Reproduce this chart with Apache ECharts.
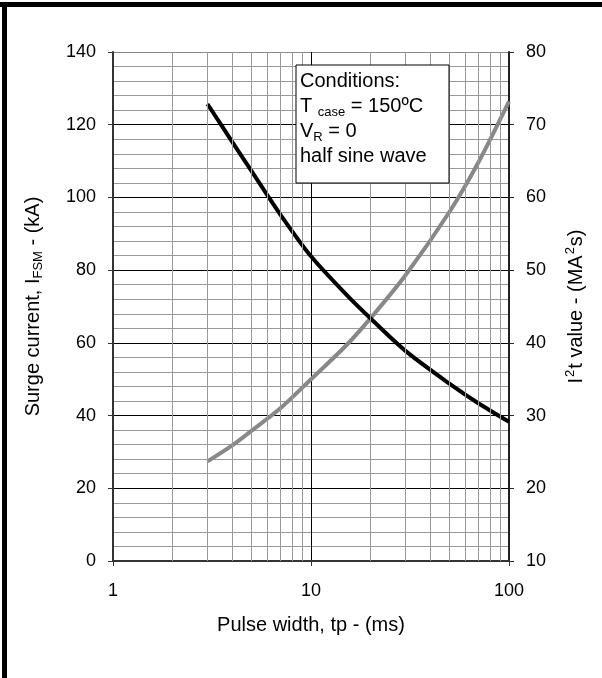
<!DOCTYPE html>
<html>
<head>
<meta charset="utf-8">
<script src="https://cdn.jsdelivr.net/npm/echarts@6/dist/echarts.min.js"></script>
<style>
html,body{margin:0;padding:0;background:#fff;}
#chart{width:602px;height:678px;}
</style>
</head>
<body>
<div id="chart"></div>
<script>
// Data
const pulseWidth   = [3, 4, 5, 7, 10, 15, 20, 30, 50, 70, 100];          // ms
const surgeCurrent = [125.7, 115.3, 107.3, 95.3, 83.8, 73.4, 66.7, 57.8, 48.8, 43.4, 38.3]; // kA
const i2tValue     = [23.7, 25.9, 27.9, 31.0, 35.0, 39.6, 43.4, 49.3, 58.0, 64.8, 73.2]; // MA²s
const minorGridX   = [2, 3, 4, 5, 6, 7, 8, 9, 20, 30, 40, 50, 60, 70, 80, 90];
const conditionLines = ['Conditions:', 'T case = 150ºC', 'VR = 0', 'half sine wave'];

const FONT = 'Liberation Sans, Arial, sans-serif';
const chart = echarts.init(document.getElementById('chart'));

const option = {
  backgroundColor: '#fff',
  animation: false,
  textStyle: { fontFamily: FONT },
  grid: { left: 113, right: 93, top: 52, bottom: 117, containLabel: false },
  xAxis: {
    type: 'log', logBase: 10, min: 1, max: 100,
    name: 'Pulse width, tp - (ms)', nameLocation: 'middle', nameGap: 54,
    nameTextStyle: { fontSize: 20, color: '#000', fontFamily: FONT },
    axisLine: { show: true, lineStyle: { color: '#333', width: 2 } },
    axisTick: { show: true, length: 5, lineStyle: { color: '#333', width: 1 } },
    axisLabel: { fontSize: 18, color: '#000', margin: 21, fontFamily: FONT },
    splitLine: { show: true, lineStyle: { color: '#000', width: 1 } },
    minorTick: { show: false }, minorSplitLine: { show: false }
  },
  yAxis: [
    {
      type: 'value', min: 0, max: 140, interval: 20, position: 'left',
      name: '{a|Surge current, I}{sub|FSM}{a| - (kA)}', nameLocation: 'middle', nameGap: 68, nameRotate: 90,
      nameTextStyle: {
        color: '#000', fontFamily: FONT,
        rich: {
          a: { fontSize: 20, color: '#000', fontFamily: FONT, lineHeight: 24 },
          sub: { fontSize: 13, color: '#000', fontFamily: FONT, verticalAlign: 'bottom', lineHeight: 24, padding: [6, 0, 0, 0] }
        }
      },
      axisLine: { show: true, lineStyle: { color: '#333', width: 2 } },
      axisTick: { show: true, length: 5, lineStyle: { color: '#333', width: 1 } },
      axisLabel: { fontSize: 18, color: '#000', margin: 17, fontFamily: FONT },
      splitLine: { show: true, lineStyle: { color: ['#000', '#000', '#000', '#000', '#000', '#000', '#000', '#888'], width: 1 } },
      minorTick: { show: false, splitNumber: 5 },
      minorSplitLine: { show: true, lineStyle: { color: '#999', width: 1 } }
    },
    {
      type: 'value', min: 10, max: 80, interval: 10, position: 'right',
      name: '{a|I}{sup|2}{a|t value - (MA}{sup|2}{a|s)}', nameLocation: 'middle', nameGap: 55, nameRotate: 90,
      nameTextStyle: {
        color: '#000', fontFamily: FONT,
        rich: {
          a: { fontSize: 20, color: '#000', fontFamily: FONT, lineHeight: 24 },
          sup: { fontSize: 13, color: '#000', fontFamily: FONT, verticalAlign: 'top', lineHeight: 24, padding: [0, 1, 6, 1] }
        }
      },
      axisLine: { show: true, lineStyle: { color: '#222', width: 2 } },
      axisTick: { show: true, length: 5, lineStyle: { color: '#222', width: 1 } },
      axisLabel: { fontSize: 18, color: '#000', margin: 17, fontFamily: FONT },
      splitLine: { show: false }
    }
  ],
  series: [
    {
      name: 'gridMinorX', type: 'line', data: [], z: 1, silent: true,
      markLine: {
        silent: true, symbol: ['none', 'none'], animation: false,
        label: { show: false },
        lineStyle: { color: '#999', width: 1, type: 'solid' },
        data: minorGridX.map(v => ({ xAxis: v }))
      }
    },
    {
      name: 'Surge current', type: 'line', yAxisIndex: 0, z: 4,
      data: pulseWidth.map((x, i) => [x, surgeCurrent[i]]),
      smooth: 0.3, symbol: 'none',
      lineStyle: { color: '#000', width: 4 }
    },
    {
      name: 'I2t', type: 'line', yAxisIndex: 1, z: 3,
      data: pulseWidth.map((x, i) => [x, i2tValue[i]]),
      smooth: 0.3, symbol: 'none',
      lineStyle: { color: '#888', width: 4 }
    }
  ],
  graphic: [
    { type: 'rect', z: 100, shape: { x: 0, y: 2, width: 602, height: 5 }, style: { fill: '#000' } },
    { type: 'rect', z: 100, shape: { x: 2, y: 2, width: 5, height: 676 }, style: { fill: '#000' } },
    { type: 'rect', z: 50, shape: { x: 296, y: 65, width: 153, height: 118 }, style: { fill: '#fff', stroke: '#000', lineWidth: 1 } },
    {
      type: 'text', z: 51, x: 300, y: 69,
      style: {
        text: '{a|' + conditionLines[0] + '}\n{a|T }{sub|case}{a| = 150ºC}\n{a|V}{sub|R}{a| = 0}\n{a|' + conditionLines[3] + '}',
        font: '20px ' + FONT, fill: '#000',
        rich: {
          a: { fontSize: 20, fontFamily: FONT, fill: '#000', lineHeight: 25 },
          sub: { fontSize: 13, fontFamily: FONT, fill: '#000', lineHeight: 25, verticalAlign: 'bottom', padding: [8, 0, 0, 0] }
        }
      }
    }
  ]
};
chart.setOption(option);
</script>
</body>
</html>
